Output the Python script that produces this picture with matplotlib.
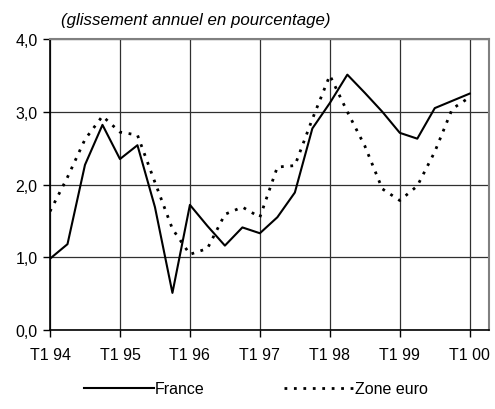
import matplotlib
matplotlib.use("Agg")
import matplotlib.pyplot as plt

plt.rcParams['font.family'] = ['Liberation Sans', 'DejaVu Sans']

# trimestres T1 94 .. T1 00
quarters = ['T%d %02d' % (q, y % 100) for y in range(1994, 2001) for q in range(1, 5)][:25]
france = [0.98, 1.18, 2.27, 2.82, 2.35, 2.54, 1.69, 0.51, 1.72, 1.43, 1.16, 1.41, 1.33,
          1.55, 1.89, 2.77, 3.12, 3.51, 3.26, 3.00, 2.71, 2.63, 3.05, 3.15, 3.25]
zone_euro = [1.63, 2.10, 2.62, 2.94, 2.72, 2.68, 2.03, 1.39, 1.04, 1.12, 1.59, 1.69, 1.55,
             2.24, 2.26, 2.90, 3.50, 3.00, 2.53, 1.94, 1.78, 1.98, 2.45, 3.04, 3.20]
ytick_vals = [0, 1, 2, 3, 4]
ytick_labels = ['0,0', '1,0', '2,0', '3,0', '4,0']
title = '(glissement annuel en pourcentage)'

x = list(range(len(quarters)))

fig = plt.figure(figsize=(4.95, 4.1), dpi=100)
ax = fig.add_axes([50/495, 1-331/410, 439/495, 291/410])

ax.plot(x, france, color='black', lw=1.5, label='France')
ax.plot(x, zone_euro, color='black', lw=2, linestyle=(0, (1, 2.4)), label='Zone euro')

ax.set_xlim(0, 25.1)
ax.set_ylim(0, 4)
ax.set_xticks(x[::4])
ax.set_xticklabels(quarters[::4], fontsize=11.5)
ax.set_yticks(ytick_vals)
ax.set_yticklabels(ytick_labels, fontsize=11.5)
ax.tick_params(direction='out', length=5, width=1, color='black', pad=7)
ax.tick_params(axis='y', pad=4)
ax.grid(True, color='#303030', lw=0.9)
ax.set_axisbelow(True)

for s in ['top', 'right']:
    ax.spines[s].set_color('#808080')
    ax.spines[s].set_linewidth(1.5)
for s in ['left', 'bottom']:
    ax.spines[s].set_color('black')
    ax.spines[s].set_linewidth(1.2)

fig.text(61/495, 1-20/410, title, fontsize=12.2, style='italic', va='center', ha='left')

fig.legend(loc='center', bbox_to_anchor=(256/495, 1-390/410), ncol=2, frameon=False,
           fontsize=11.5, handlelength=4.4, handletextpad=0.05, columnspacing=5)

fig.savefig('out.png', dpi=100)
